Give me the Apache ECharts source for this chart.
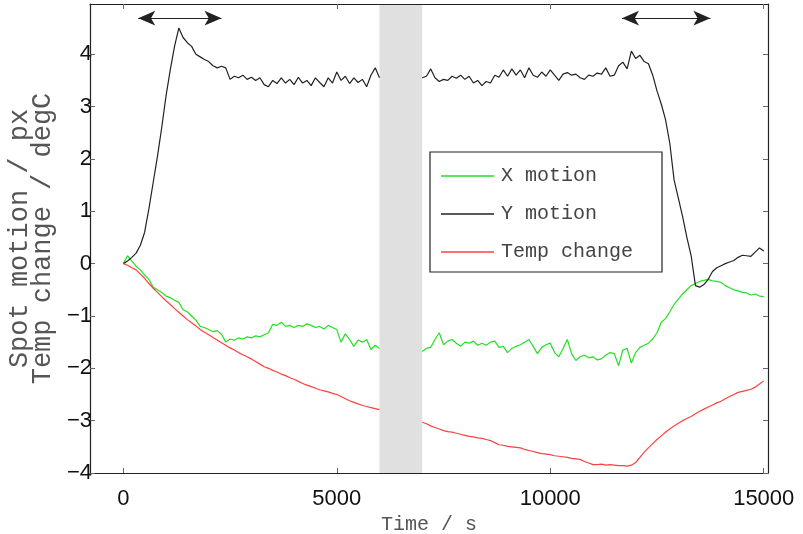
<!DOCTYPE html>
<html>
<head>
<meta charset="utf-8">
<script src="https://cdn.jsdelivr.net/npm/echarts@6/dist/echarts.min.js"></script>
<style>
  html, body { margin: 0; padding: 0; background: #fff; }
  #chart { width: 803px; height: 534px; }
</style>
</head>
<body>
<div id="chart"></div>
<script>
// Sample times (s); the logger was paused between 6000 s and 7000 s.
const timeSec = [
  0, 100, 200, 300, 400, 500, 600, 700, 800, 900,
  1000, 1100, 1200, 1300, 1400, 1500, 1600, 1700, 1800, 1900,
  2000, 2100, 2200, 2300, 2400, 2500, 2600, 2700, 2800, 2900,
  3000, 3100, 3200, 3300, 3400, 3500, 3600, 3700, 3800, 3900,
  4000, 4100, 4200, 4300, 4400, 4500, 4600, 4700, 4800, 4900,
  5000, 5100, 5200, 5300, 5400, 5500, 5600, 5700, 5800, 5900,
  6000, 6100, 6200, 6300, 6400, 6500, 6600, 6700, 6800, 6900,
  7000, 7100, 7200, 7300, 7400, 7500, 7600, 7700, 7800, 7900,
  8000, 8100, 8200, 8300, 8400, 8500, 8600, 8700, 8800, 8900,
  9000, 9100, 9200, 9300, 9400, 9500, 9600, 9700, 9800, 9900,
  10000, 10100, 10200, 10300, 10400, 10500, 10600, 10700, 10800, 10900,
  11000, 11100, 11200, 11300, 11400, 11500, 11600, 11700, 11800, 11900,
  12000, 12100, 12200, 12300, 12400, 12500, 12600, 12700, 12800, 12900,
  13000, 13100, 13200, 13300, 13400, 13500, 13600, 13700, 13800, 13900,
  14000, 14100, 14200, 14300, 14400, 14500, 14600, 14700, 14800, 14900,
  15000
];

// Spot motion in x (px)
const xMotion = [
  0, 0.15, 0.05, -0.05, -0.12, -0.22, -0.3, -0.45, -0.5, -0.55,
  -0.62, -0.65, -0.7, -0.74, -0.88, -0.92, -1.0, -1.08, -1.2, -1.22,
  -1.26, -1.3, -1.28, -1.35, -1.5, -1.44, -1.46, -1.42, -1.44, -1.4,
  -1.42, -1.38, -1.4, -1.36, -1.32, -1.16, -1.18, -1.12, -1.2, -1.18,
  -1.22, -1.18, -1.2, -1.15, -1.18, -1.22, -1.2, -1.25, -1.18, -1.22,
  -1.26, -1.5, -1.34, -1.45, -1.58, -1.46, -1.5, -1.45, -1.64, -1.56,
  -1.62, null, null, null, null, null, null, null, null, null,
  -1.68, -1.62, -1.6, -1.45, -1.32, -1.55, -1.48, -1.45, -1.52, -1.58,
  -1.5, -1.52, -1.48, -1.56, -1.52, -1.56, -1.5, -1.48, -1.6, -1.58,
  -1.7, -1.62, -1.58, -1.55, -1.5, -1.45, -1.58, -1.72, -1.6, -1.55,
  -1.52, -1.7, -1.78, -1.62, -1.45, -1.72, -1.85, -1.78, -1.75, -1.8,
  -1.78, -1.84, -1.82, -1.75, -1.7, -1.72, -1.95, -1.65, -1.62, -1.9,
  -1.7, -1.6, -1.56, -1.52, -1.44, -1.32, -1.12, -1.05, -0.92, -0.78,
  -0.68, -0.58, -0.5, -0.42, -0.38, -0.34, -0.32, -0.3, -0.33, -0.34,
  -0.36, -0.42, -0.46, -0.5, -0.52, -0.55, -0.56, -0.6, -0.58, -0.62,
  -0.63
];

// Spot motion in y (px)
const yMotion = [
  0, 0.05, 0.12, 0.2, 0.35, 0.6, 1.05, 1.55, 2.05, 2.6,
  3.2, 3.7, 4.15, 4.5, 4.32, 4.22, 4.15, 4.0, 3.95, 3.9,
  3.86, 3.78, 3.74, 3.77, 3.74, 3.52, 3.58, 3.55, 3.6, 3.52,
  3.56, 3.5, 3.55, 3.42, 3.38, 3.5, 3.44, 3.55, 3.45, 3.52,
  3.42, 3.56, 3.45, 3.5, 3.4, 3.55, 3.46, 3.38, 3.55, 3.45,
  3.66, 3.5, 3.58, 3.44, 3.55, 3.46, 3.52, 3.38, 3.6, 3.74,
  3.55, null, null, null, null, null, null, null, null, null,
  3.55, 3.58, 3.72, 3.55, 3.48, 3.52, 3.5, 3.58, 3.54, 3.6,
  3.52, 3.58, 3.45, 3.5, 3.4, 3.48, 3.45, 3.6, 3.56, 3.7,
  3.58, 3.72, 3.6, 3.7, 3.55, 3.74, 3.6, 3.56, 3.66, 3.58,
  3.7, 3.6, 3.5, 3.62, 3.65, 3.6, 3.62, 3.55, 3.52, 3.6,
  3.58, 3.64, 3.62, 3.74, 3.58, 3.6, 3.78, 3.85, 3.72, 4.06,
  3.92, 3.98, 3.86, 3.82, 3.6, 3.3, 3.05, 2.75, 2.3, 1.6,
  1.25, 0.9, 0.5, 0.15, -0.42, -0.45, -0.4, -0.3, -0.15, -0.08,
  -0.04, 0.0, 0.03, 0.06, 0.12, 0.16, 0.15, 0.14, 0.22, 0.3,
  0.24
];

// Temperature change (degC)
const tempChange = [
  0, -0.03, -0.08, -0.12, -0.2, -0.28, -0.38, -0.47, -0.55, -0.63,
  -0.71, -0.78, -0.86, -0.93, -1.0, -1.07, -1.13, -1.19, -1.26, -1.31,
  -1.36, -1.41, -1.46, -1.51, -1.56, -1.61, -1.65, -1.7, -1.74, -1.78,
  -1.82, -1.87, -1.92, -1.97, -2.0, -2.04, -2.07, -2.11, -2.14, -2.18,
  -2.21, -2.25, -2.29, -2.32, -2.35, -2.38, -2.41, -2.43, -2.45, -2.48,
  -2.5, -2.54, -2.58, -2.62, -2.65, -2.68, -2.71, -2.73, -2.75, -2.77,
  -2.79, null, null, null, null, null, null, null, null, null,
  -3.03, -3.06, -3.1, -3.13, -3.16, -3.19, -3.21, -3.22, -3.24, -3.26,
  -3.28, -3.3, -3.31, -3.33, -3.34, -3.36, -3.38, -3.42, -3.46, -3.47,
  -3.49, -3.5, -3.51, -3.52, -3.55, -3.57, -3.59, -3.61, -3.63, -3.64,
  -3.65, -3.67, -3.68, -3.69, -3.7, -3.72, -3.73, -3.74, -3.78, -3.81,
  -3.84, -3.84, -3.83, -3.85, -3.84, -3.85, -3.86, -3.86, -3.87, -3.85,
  -3.8, -3.7, -3.6, -3.52, -3.44, -3.36, -3.29, -3.22, -3.16, -3.1,
  -3.05, -3.0, -2.96, -2.92, -2.87, -2.82, -2.78, -2.74, -2.7, -2.66,
  -2.63, -2.58, -2.54, -2.5, -2.46, -2.44, -2.42, -2.4, -2.36, -2.3,
  -2.24
];

const seriesNames = ['X motion', 'Y motion', 'Temp change'];
const xTicks = [0, 5000, 10000, 15000];
const yTicks = [-4, -3, -2, -1, 0, 1, 2, 3, 4];
const pauseSpan = [6000, 7000];                   // shaded interval (s)
const arrowSpans = [[350, 2300], [11680, 13750]];  // double arrows (s)
const arrowLevel = 4.69;

const X_MIN = -780, X_MAX = 15100, Y_MIN = -4, Y_MAX = 4.96;

function toPairs(values) {
  return timeSec.map((t, i) => [t, values[i]]);
}
const withMinus = v => String(v).replace('-', '\u2212');

const frameLine = { show: true, onZero: false, lineStyle: { color: '#222', width: 1.2 } };
const innerTick = (vals) => ({
  show: true, inside: true, length: 5, customValues: vals,
  lineStyle: { color: '#666', width: 1 }
});

const chart = echarts.init(document.getElementById('chart'), null, { renderer: 'canvas' });

const option = {
  animation: false,
  backgroundColor: '#fff',
  grid: { left: 90, right: 35, top: 4, bottom: 61, outerBoundsMode: 'none' },
  xAxis: [
    {
      type: 'value', min: X_MIN, max: X_MAX, position: 'bottom', z: 10,
      axisLine: frameLine,
      axisTick: innerTick(xTicks),
      axisLabel: {
        customValues: xTicks, formatter: v => String(v), margin: 15,
        fontFamily: 'Liberation Sans', fontSize: 22, color: '#111'
      },
      splitLine: { show: false },
      name: 'Time / s', nameLocation: 'middle', nameGap: 31,
      nameTextStyle: { fontFamily: 'Liberation Mono', fontSize: 20, color: '#555' }
    },
    {
      type: 'value', min: X_MIN, max: X_MAX, position: 'top', z: 10,
      axisLine: frameLine, axisTick: innerTick(xTicks),
      axisLabel: { show: false }, splitLine: { show: false }
    }
  ],
  yAxis: [
    {
      type: 'value', min: Y_MIN, max: Y_MAX, position: 'left', z: 10,
      axisLine: frameLine,
      axisTick: innerTick(yTicks),
      axisLabel: {
        customValues: yTicks, formatter: withMinus, margin: -2,
        fontFamily: 'Liberation Sans', fontSize: 22, color: '#111'
      },
      splitLine: { show: false },
      name: 'Spot motion / px\nTemp change / degC',
      nameLocation: 'middle', nameGap: 32, nameRotate: 90,
      nameTextStyle: {
        fontFamily: 'Liberation Mono', fontSize: 27, lineHeight: 23,
        color: '#555', align: 'center'
      }
    },
    {
      type: 'value', min: Y_MIN, max: Y_MAX, position: 'right', z: 10,
      axisLine: frameLine, axisTick: innerTick(yTicks),
      axisLabel: { show: false }, splitLine: { show: false }
    }
  ],
  legend: {
    orient: 'vertical', left: 441, top: 166, z: 6, padding: 0,
    icon: 'rect', itemWidth: 53, itemHeight: 1.4, itemGap: 18,
    data: seriesNames,
    textStyle: {
      fontFamily: 'Liberation Mono', fontSize: 20, color: '#444',
      padding: [0, 0, 0, 2]
    }
  },
  graphic: [
    {
      type: 'rect', z: 5, silent: true,
      shape: { x: 430, y: 152, width: 232, height: 120 },
      style: { fill: '#fff', stroke: '#222', lineWidth: 1.2 }
    }
  ],
  series: [
    {
      name: seriesNames[0], type: 'line', symbol: 'none', connectNulls: false,
      data: toPairs(xMotion), z: 3,
      lineStyle: { color: '#22e022', width: 1.2 }, itemStyle: { color: '#22e022' },
      markArea: {
        silent: true, z: 1,
        itemStyle: { color: '#e0e0e0' },
        data: [[{ xAxis: pauseSpan[0] }, { xAxis: pauseSpan[1] }]]
      }
    },
    {
      name: seriesNames[1], type: 'line', symbol: 'none', connectNulls: false,
      data: toPairs(yMotion), z: 3,
      lineStyle: { color: '#222', width: 1.2 }, itemStyle: { color: '#222' },
      markLine: {
        silent: true,
        symbol: ['arrow', 'arrow'], symbolSize: [11, 17],
        lineStyle: { color: '#222', width: 1, type: 'solid' },
        label: { show: false },
        emphasis: { disabled: true },
        data: arrowSpans.map(s => [
          { coord: [s[0], arrowLevel] },
          { coord: [s[1], arrowLevel] }
        ])
      }
    },
    {
      name: seriesNames[2], type: 'line', symbol: 'none', connectNulls: false,
      data: toPairs(tempChange), z: 3,
      lineStyle: { color: '#ff4040', width: 1.2 }, itemStyle: { color: '#ff4040' }
    }
  ]
};

chart.setOption(option);
</script>
</body>
</html>
